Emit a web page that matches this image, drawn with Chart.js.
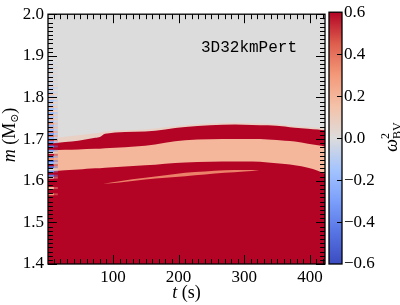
<!DOCTYPE html>
<html><head><meta charset="utf-8">
<script src="https://cdn.jsdelivr.net/npm/chart.js@4.4.1/dist/chart.umd.min.js"></script>
<style>html,body{margin:0;padding:0;background:#fff;}#wrap{position:relative;width:400px;height:305px;}canvas{position:absolute;left:0;top:0;}</style>
</head><body><div id="wrap"><canvas id="main" width="400" height="305"></canvas><canvas id="cb" width="400" height="305"></canvas></div>
<script>
// ---- data ----
const times    = [1, 7, 47, 73, 80, 88, 149, 210, 286, 312, 336, 362, 377, 397, 412, 423];
const haloTop  = [1.699, 1.701, 1.709, 1.714, 1.715, 1.718, 1.723, 1.733, 1.739, 1.738, 1.737, 1.734, 1.731, 1.729, 1.727, 1.725];
const upperTop = [1.689, 1.690, 1.696, 1.703, 1.705, 1.713, 1.718, 1.729, 1.735, 1.734, 1.733, 1.730, 1.727, 1.725, 1.723, 1.721];
const upperBot = [1.672, 1.673, 1.675, 1.677, 1.677, 1.678, 1.684, 1.697, 1.700, 1.700, 1.699, 1.696, 1.694, 1.689, 1.685, 1.682];
const lowerTop = [1.622, 1.623, 1.627, 1.630, 1.630, 1.631, 1.637, 1.644, 1.646, 1.646, 1.644, 1.640, 1.637, 1.631, 1.624, 1.617];
const streakTimes = [85, 110, 149, 180, 210, 240, 270, 300, 323];
const streakTop   = [1.593, 1.599, 1.607, 1.613, 1.619, 1.622, 1.625, 1.626, 1.626];
const streakBot   = [1.593, 1.596, 1.603, 1.607, 1.611, 1.615, 1.619, 1.622, 1.626];
// omega^2_BV value of each region
const bgValue = 0.0, haloValue = 0.07, upperValue = 0.6, middleValue = 0.19, lowerValue = 0.6, streakValue = 0.36;
// noisy left edge columns, cells of 0.005 Msun starting at 1.560
const noiseM0 = 1.560, noiseDm = 0.005, noiseT = [1, 10, 16];
const noiseValues = [0.6,0.3,0.6,0.6,0.2,0.6,0.6,0.6,0.6,0.1,-0.4,0.6,-0.3,0.0,-0.5,0.6,-0.2,-0.5,0.3,-0.4,
  0.6,0.0,-0.3,0.6,-0.4,0.6,-0.3,0.5,-0.2,0.4,-0.3,0.4,-0.2,0.3,-0.2,0.3,-0.15,0.2,-0.15,0.2,
  -0.2,0.15,-0.15,0.2,-0.1,0.15,-0.15,0.1,-0.1,0.15,-0.1,0.05,-0.1,0.1,-0.05,0.05,-0.05,0.05,-0.05,0.05,
  -0.05,0.05,-0.05,0.03,-0.03];
const xTicks = [100, 200, 300, 400];
const yTicks = [1.4, 1.5, 1.6, 1.7, 1.8, 1.9, 2.0];
const cbTicks = [-0.6, -0.4, -0.2, 0.0, 0.2, 0.4, 0.6];
const xMin = 1, xMax = 423, yMin = 1.4, yMax = 2.0, cbMin = -0.6, cbMax = 0.6;
const label = '3D32kmPert';
// coolwarm colormap
const cmapStops = [0, 0.125, 0.25, 0.375, 0.5, 0.625, 0.75, 0.875, 1];
const cmapRGB = [[59,76,192],[87,116,228],[123,159,251],[164,196,254],[221,220,220],[244,194,169],[244,153,122],[222,94,77],[180,4,38]];

function cmap(v){
  let s = (v - cbMin) / (cbMax - cbMin); s = Math.max(0, Math.min(1, s));
  let i = 0; while (i < cmapStops.length - 2 && s > cmapStops[i+1]) i++;
  const f = (s - cmapStops[i]) / (cmapStops[i+1] - cmapStops[i]);
  const c = cmapRGB[i].map((a, k) => Math.round(a + (cmapRGB[i+1][k] - a) * f));
  return `rgb(${c[0]},${c[1]},${c[2]})`;
}
const zip = (xs, ys) => xs.map((x, i) => ({x, y: ys[i]}));
const serif = '"Liberation Serif", "DejaVu Serif", serif';
const tickFont = {family: serif, size: 17};

function drawRuns(ctx, runs, x, y){
  let w = 0;
  runs.forEach(r => { ctx.font = r.f; r.w = ctx.measureText(r.t).width; if (!r.stack) w += r.w; });
  let cx = x - w / 2;
  ctx.textAlign = 'left'; ctx.textBaseline = 'alphabetic';
  runs.forEach(r => { ctx.font = r.f; ctx.fillText(r.t, cx, y + (r.dy || 0)); if (!r.stack) cx += r.w; });
}

const base = {pointRadius: 0, borderWidth: 0, borderColor: 'rgba(0,0,0,0)', cubicInterpolationMode: 'monotone'};

const mainDecor = {
  id: 'mainDecor',
  beforeDatasetsDraw(chart){
    const {ctx, chartArea: a} = chart;
    ctx.save(); ctx.fillStyle = cmap(bgValue);
    ctx.fillRect(a.left, a.top, a.right - a.left, a.bottom - a.top); ctx.restore();
  },
  afterDatasetsDraw(chart){
    const {ctx, chartArea: a, scales: {x: xs, y: ys}} = chart;
    ctx.save(); ctx.beginPath(); ctx.rect(a.left, a.top, a.right - a.left, a.bottom - a.top); ctx.clip();
    for (let c = 0; c < 2; c++){
      const x0 = xs.getPixelForValue(noiseT[c]), x1 = xs.getPixelForValue(noiseT[c+1]);
      ctx.globalAlpha = c === 0 ? 1 : 0.4;
      noiseValues.forEach((v, i) => {
        const m = noiseM0 + i * noiseDm;
        const y0 = ys.getPixelForValue(m + noiseDm), y1 = ys.getPixelForValue(m);
        ctx.fillStyle = cmap(v); ctx.fillRect(x0, y0, x1 - x0, y1 - y0);
      });
    }
    ctx.restore();
  },
  afterDraw(chart){
    const {ctx, chartArea: a, scales: {x: xs, y: ys}} = chart;
    ctx.save();
    ctx.strokeStyle = '#000'; ctx.lineWidth = 1;
    ctx.beginPath();
    for (let k = 1; k <= 42; k++){
      const t = k * 10; if (t > xMax) break;
      const px = Math.round(xs.getPixelForValue(t)) + 0.5;
      const L = (t % 100 === 0) ? 9 : 5;
      ctx.moveTo(px, a.bottom); ctx.lineTo(px, a.bottom - L);
      ctx.moveTo(px, a.top); ctx.lineTo(px, a.top + L);
    }
    for (let k = 140; k <= 200; k++){
      const py = Math.round(ys.getPixelForValue(k / 100)) + 0.5;
      const L = (k % 10 === 0) ? 9 : 5;
      ctx.moveTo(a.left, py); ctx.lineTo(a.left + L, py);
      ctx.moveTo(a.right, py); ctx.lineTo(a.right - L, py);
    }
    ctx.stroke();
    ctx.lineWidth = 1.3;
    ctx.strokeRect(a.left, a.top, a.right - a.left, a.bottom - a.top);
    ctx.fillStyle = '#000';
    ctx.font = '16px "Liberation Mono", monospace';
    ctx.textAlign = 'left'; ctx.textBaseline = 'alphabetic';
    ctx.fillText(label, 201, 52);
    drawRuns(ctx, [{t: 't', f: `italic 18px ${serif}`}, {t: ' (s)', f: `18px ${serif}`}], (a.left + a.right) / 2, 298);
    ctx.translate(15, 135); ctx.rotate(-Math.PI / 2);
    drawRuns(ctx, [{t: 'm', f: `italic 18px ${serif}`}, {t: ' (M', f: `18px ${serif}`},
      {t: '⊙', f: '11px "DejaVu Serif"', dy: 3}, {t: ')', f: `18px ${serif}`}], 0, 0);
    ctx.restore();
  }
};

new Chart(document.getElementById('main'), {
  type: 'line',
  data: {datasets: [
    {...base, data: zip(streakTimes, streakTop), fill: 1, backgroundColor: cmap(streakValue)},
    {...base, data: zip(streakTimes, streakBot), fill: false},
    {...base, data: zip(times, lowerTop), fill: 'start', backgroundColor: cmap(lowerValue)},
    {...base, data: zip(times, upperBot), fill: 'start', backgroundColor: cmap(middleValue)},
    {...base, data: zip(times, upperTop), fill: 'start', backgroundColor: cmap(upperValue)},
    {...base, data: zip(times, haloTop), fill: 'start', backgroundColor: cmap(haloValue)}
  ]},
  options: {
    responsive: false, animation: false, devicePixelRatio: 1,
    layout: {padding: {top: 6, right: 75, left: 0, bottom: 0}},
    plugins: {legend: {display: false}, tooltip: {enabled: false}},
    scales: {
      x: {type: 'linear', min: xMin, max: xMax,
        grid: {display: false, drawTicks: false}, border: {display: false},
        ticks: {font: tickFont, color: '#000', padding: 3, maxRotation: 0, callback: v => String(v)},
        afterBuildTicks: s => { s.ticks = xTicks.map(v => ({value: v})); },
        afterFit: s => { s.height = 41; }},
      y: {type: 'linear', min: yMin, max: yMax,
        grid: {display: false, drawTicks: false}, border: {display: false},
        ticks: {font: tickFont, color: '#000', padding: 4, callback: v => v.toFixed(1)},
        afterBuildTicks: s => { s.ticks = yTicks.map(v => ({value: v})); },
        afterFit: s => { s.width = 48; }}
    }
  },
  plugins: [mainDecor]
});

const cbDecor = {
  id: 'cbDecor',
  afterDraw(chart){
    const {ctx, chartArea: a, scales: {y: ys}} = chart;
    ctx.save();
    ctx.strokeStyle = '#000'; ctx.lineWidth = 1;
    ctx.beginPath();
    cbTicks.forEach(v => {
      if (v === cbMin || v === cbMax) return;
      const py = Math.round(ys.getPixelForValue(v)) + 0.5;
      ctx.moveTo(a.right, py); ctx.lineTo(a.right - 5, py);
    });
    ctx.stroke();
    ctx.lineWidth = 1.3;
    ctx.strokeRect(a.left, a.top, a.right - a.left, a.bottom - a.top);
    ctx.fillStyle = '#000';
    ctx.translate(397, 137); ctx.rotate(-Math.PI / 2);
    drawRuns(ctx, [{t: 'ω', f: `italic 18px ${serif}`}, {t: '2', f: `12px ${serif}`, dy: -8, stack: true},
      {t: 'BV', f: `12px ${serif}`, dy: 4}], 0, 0);
    ctx.restore();
  }
};

new Chart(document.getElementById('cb'), {
  type: 'bar',
  data: {labels: ['cb'], datasets: [{data: [[cbMin, cbMax]], borderWidth: 0, barPercentage: 1, categoryPercentage: 1,
    backgroundColor: c => {
      const ch = c.chart; if (!ch.chartArea) return cmap(0);
      const ys = ch.scales.y;
      const g = ch.ctx.createLinearGradient(0, ys.getPixelForValue(cbMin), 0, ys.getPixelForValue(cbMax));
      cmapStops.forEach((s, i) => g.addColorStop(s, `rgb(${cmapRGB[i].join(',')})`));
      return g;
    }}]},
  options: {
    responsive: false, animation: false, devicePixelRatio: 1,
    layout: {padding: {left: 329, top: 6, bottom: 41, right: 0}},
    plugins: {legend: {display: false}, tooltip: {enabled: false}},
    scales: {
      x: {display: false},
      y: {position: 'right', min: cbMin, max: cbMax,
        grid: {display: false, drawTicks: false}, border: {display: false},
        ticks: {font: tickFont, color: '#000', padding: 2,
          callback: v => (v < 0 ? '\u2212' : '') + Math.abs(v).toFixed(1)},
        afterBuildTicks: s => { s.ticks = cbTicks.map(v => ({value: v})); },
        afterFit: s => { s.width = 58; }}
    }
  },
  plugins: [cbDecor]
});
</script></body></html>
